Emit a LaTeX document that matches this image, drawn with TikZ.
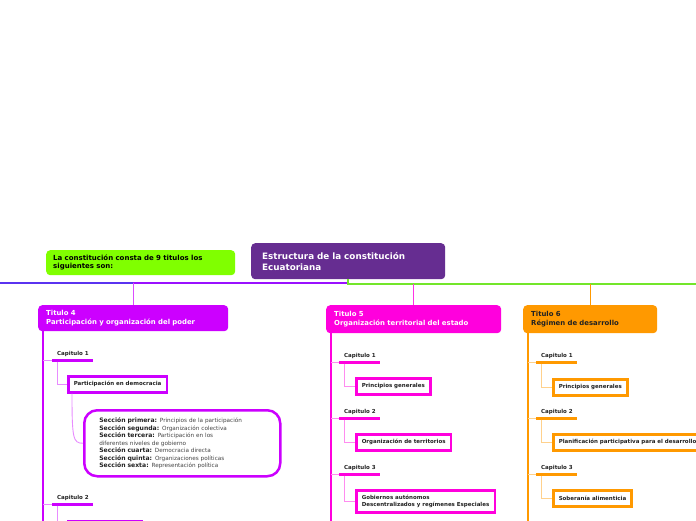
\documentclass[tikz,border=0pt]{standalone}
\usepackage{fontspec}
\setmainfont{DejaVu Sans}
\definecolor{rootc}{HTML}{662D91}
\definecolor{greenc}{HTML}{80FF00}
\definecolor{glinec}{HTML}{73E62A}
\definecolor{tfour}{HTML}{CC00FF}
\definecolor{tfive}{HTML}{FF00DD}
\definecolor{tsix}{HTML}{FF9900}
\definecolor{violetl}{HTML}{9A10FF}
\definecolor{bluel}{HTML}{5A33F0}
\definecolor{txt}{HTML}{222222}
\definecolor{gtxt}{HTML}{444444}
\newcommand{\secbold}[1]{{\bfseries\fontsize{6.1}{7.5}\selectfont\color{txt} #1}}
\begin{document}
\begin{tikzpicture}[x=1pt,y=-1pt,
  box/.style={anchor=north west, inner ysep=0pt, align=left, rounded corners=4pt},
  titlefont/.style={font=\bfseries\fontsize{6.9}{8.5}\selectfont},
  capfont/.style={font=\bfseries\fontsize{5.5}{6}\selectfont, text=txt},
  capbox/.style={anchor=north west, draw=#1, fill=white, line width=2.5pt, inner xsep=5.5pt, inner ysep=0pt,
     align=left, font=\bfseries\fontsize{5.5}{7.2}\selectfont, text=txt},
  captext/.style={anchor=south west, inner sep=0pt, capfont},
  bar/.style={anchor=west, fill=#1, inner sep=0pt, minimum width=41pt, minimum height=3pt},
  spine/.style={draw=#1, line width=1.5pt},
  light/.style={draw=#1!45, line width=0.9pt}
]
\useasboundingbox (0,0) rectangle (696,520);
\fill[white] (0,0) rectangle (696,520);

% root and intro
\node[box, fill=rootc, text=white, minimum width=194pt, minimum height=36pt, text width=172pt, inner xsep=11pt,
      font=\bfseries\fontsize{8.8}{11}\selectfont] (root) at (251,243)
  {Estructura de la constitución\\Ecuatoriana};
\node[box, fill=greenc, text=black, minimum width=189pt, minimum height=25pt, text width=175pt, inner xsep=7pt,
      font=\bfseries\fontsize{7}{8}\selectfont] (intro) at (46,250)
  {La constitución consta de 9 titulos los\\siguientes son:};

% titles
\node[box, fill=tfour, text=white, titlefont, minimum width=190pt, minimum height=26pt, text width=174pt, inner xsep=8pt] (t4) at (38,305)
  {Titulo 4\\Participación y organización del poder};
\node[box, fill=tfive, text=white, titlefont, minimum width=175pt, minimum height=28pt, text width=159pt, inner xsep=8pt] (t5) at (326,305)
  {Titulo 5\\Organización territorial del estado};
\node[box, fill=tsix, text=txt, titlefont, minimum width=134pt, minimum height=28pt, text width=118pt, inner xsep=8pt] (t6) at (523,305)
  {Titulo 6\\Régimen de desarrollo};

% main line
\coordinate (lw) at (0,283);
\coordinate (re) at (696,284);
\draw[violetl, line width=2pt] (root.south) |- (lw);
\draw[bluel, line width=2pt] (lw) -- (t4.north |- lw);
\draw[glinec, line width=2pt] (root.south) |- (re);
\draw[tfour!70, line width=1pt] (t4.north |- lw) -- (t4.north);
\draw[tfive!80, line width=1pt] (t5.north |- re) -- (t5.north);
\draw[tsix, line width=1pt] (t6.north |- re) -- (t6.north);

% spines
\coordinate (s4) at (43,331);
\coordinate (s5) at (331,333);
\coordinate (s6) at (528,333);
\draw[spine=tfour] (s4) -- (43,525);
\draw[spine=tfive] (s5) -- (331,525);
\draw[spine=tsix] (s6) -- (528,525);

% ---------- Titulo 4
\node[bar=tfour] (b41) at (52,360) {};
\node[captext] (c41) at (57,357) {Capitulo 1};
\node[capbox=tfour, minimum height=16pt] (p41) at (67,375) {Participación en democracia};
\draw[light=tfour] (b41.west -| s4) -- (b41.west);
\draw[light=tfour] ([xshift=5pt]b41.south west) |- (p41.west);

\node[anchor=north west, draw=tfour, fill=white, line width=2.5pt, rounded corners=13pt,
      minimum width=196pt, minimum height=66pt, text width=166pt, inner xsep=15pt, inner ysep=0pt,
      align=left, text=gtxt, font=\fontsize{5.7}{7.5}\selectfont] (sec) at (83,409)
  {\secbold{Sección primera:} Principios de la participación\\
   \secbold{Sección segunda:} Organización colectiva\\
   \secbold{Sección tercera:} Participación en los\\
   diferentes niveles de gobierno\\
   \secbold{Sección cuarta:} Democracia directa\\
   \secbold{Sección quinta:} Organizaciones políticas\\
   \secbold{Sección sexta:} Representación política};
\draw[light=tfour] ([xshift=5pt]p41.south west) .. controls +(0,45) and +(-10,0) .. (sec.west);

\node[bar=tfour] (b42) at (52,504) {};
\node[captext] (c42) at (57,501) {Capitulo 2};
\node[capbox=tfour, minimum width=73pt, minimum height=16pt] (p42) at (67,520) {};
\draw[light=tfour] (b42.west -| s4) -- (b42.west);
\draw[light=tfour] ([xshift=5pt]b42.south west) -- ++(0,20);

% ---------- Titulo 5
\node[bar=tfive] (b51) at (339,362) {};
\node[captext] (c51) at (344,359) {Capitulo 1};
\node[capbox=tfive, minimum height=16pt] (p51) at (355,377) {Principios generales};
\draw[light=tfive] (b51.west -| s5) -- (b51.west);
\draw[light=tfive] ([xshift=5pt]b51.south west) |- (p51.west);

\node[bar=tfive] (b52) at (339,418) {};
\node[captext] (c52) at (344,415) {Capitulo 2};
\node[capbox=tfive, minimum height=16pt] (p52) at (355,433) {Organización de territorios};
\draw[light=tfive] (b52.west -| s5) -- (b52.west);
\draw[light=tfive] ([xshift=5pt]b52.south west) |- (p52.west);

\node[bar=tfive] (b53) at (339,474) {};
\node[captext] (c53) at (344,471) {Capitulo 3};
\node[capbox=tfive, minimum height=22pt] (p53) at (355,489) {Gobiernos autónomos\\Descentralizados y regímenes Especiales};
\draw[light=tfive] (b53.west -| s5) -- (b53.west);
\draw[light=tfive] ([xshift=5pt]b53.south west) |- (p53.west);

% ---------- Titulo 6
\node[bar=tsix] (b61) at (536,362) {};
\node[captext] (c61) at (541,359) {Capitulo 1};
\node[capbox=tsix, minimum height=16pt] (p61) at (552,378) {Principios generales};
\draw[light=tsix] (b61.west -| s6) -- (b61.west);
\draw[light=tsix] ([xshift=5pt]b61.south west) |- (p61.west);

\node[bar=tsix] (b62) at (536,418) {};
\node[captext] (c62) at (541,415) {Capitulo 2};
\node[capbox=tsix, minimum height=16pt] (p62) at (552,433) {Planificación participativa para el desarrollo};
\draw[light=tsix] (b62.west -| s6) -- (b62.west);
\draw[light=tsix] ([xshift=5pt]b62.south west) |- (p62.west);

\node[bar=tsix] (b63) at (536,474) {};
\node[captext] (c63) at (541,471) {Capitulo 3};
\node[capbox=tsix, minimum height=16pt] (p63) at (552,489) {Soberanía alimenticia};
\draw[light=tsix] (b63.west -| s6) -- (b63.west);
\draw[light=tsix] ([xshift=5pt]b63.south west) |- (p63.west);
\end{tikzpicture}
\end{document}
